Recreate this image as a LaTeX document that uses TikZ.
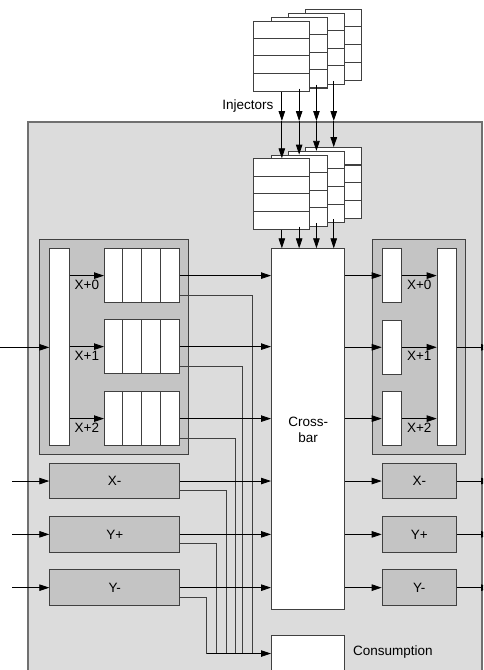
\documentclass[tikz,border=0pt]{standalone}
\usepackage{fontspec}
\setmainfont{Liberation Sans}
\usetikzlibrary{calc, arrows.meta}

\definecolor{routerbg}{HTML}{DCDCDC}
\definecolor{routeredge}{HTML}{707070}
\definecolor{unitbg}{HTML}{C4C4C4}
\definecolor{edge}{HTML}{404040}

\begin{document}
\begin{tikzpicture}[x=1pt, y=-1pt,
    font=\fontsize{13.5}{16}\selectfont,
    box/.style={draw=edge, line width=1.1pt, fill=white, inner sep=0pt, anchor=north west},
    unit/.style={box, fill=unitbg},
    arr/.style={-{Triangle[length=10pt,width=6.5pt]}, line width=0.8pt},
    feed/.style={line width=0.8pt, draw=edge}]

    \clip (0,0) rectangle (483,670);

    % router frame
    \node[box, draw=routeredge, fill=routerbg, line width=1.5pt, minimum width=454pt, minimum height=600pt] (router) at (27,121) {};

    % injector stacks, back to front
    \foreach \k in {3,2,1,0}{
        \node[box, minimum width=56pt, minimum height=70.5pt] (inj\k) at ({253.3+17.3*\k},{20.7-3.8*\k}) {};
        \foreach \r in {1,2,3}
            \draw[edge, line width=1.1pt] ($(inj\k.north west)+(0,17.6*\r)$) -- ($(inj\k.north east)+(0,17.6*\r)$);
    }
    \foreach \k in {3,2,1,0}{
        \node[box, minimum width=56pt, minimum height=71pt] (buf\k) at ({253.3+17.3*\k},{158.3-3.7*\k}) {};
        \foreach \r in {1,2,3}
            \draw[edge, line width=1.1pt] ($(buf\k.north west)+(0,17.75*\r)$) -- ($(buf\k.north east)+(0,17.75*\r)$);
    }
    \node[anchor=east, inner sep=1pt] (injlabel) at (274.5,106.5) {Injectors};

    % crossbar and consumption
    \node[box, minimum width=73.3pt, minimum height=361pt, align=center] (xbar) at (271,248.3) {Cross-\\bar};
    \node[box, minimum width=73.3pt, minimum height=36pt] (cons) at (271,635) {};
    \node[anchor=west, inner sep=1pt] (conslabel) at (352,652.5) {Consumption};

    \foreach \k in {0,...,3}{
        \draw[arr] (inj\k.south) -- (inj\k.south |- router.north);
        \draw[arr] (buf\k.north |- router.north) -- (buf\k.north);
        \draw[arr] (buf\k.south) -- (buf\k.south |- xbar.north);
    }

    % input unit X+
    \node[unit, minimum width=148.4pt, minimum height=214.7pt] (lgrp) at (39.3,239.3) {};
    \node[box, minimum width=19.4pt, minimum height=197pt] (lbar) at (49.3,248.3) {};
    \foreach \n/\y/\t in {qa/248.3/X+0, qb/319.3/X+1, qc/391.3/X+2}{
        \node[box, minimum width=74.7pt, minimum height=53.5pt] (\n) at (104,\y) {};
        \foreach \c in {1,2,3}
            \draw[edge, line width=1.1pt] ($(\n.north west)+(18.7*\c,0)$) -- ($(\n.south west)+(18.7*\c,0)$);
        \draw[arr] (lbar.east |- \n.west) -- (\n.west) node[midway, below=3pt, inner sep=1pt] {\t};
    }
    \coordinate (xin) at (0,0 |- lbar.west);
    \draw[arr] (xin) -- (lbar.west);

    % input units X-, Y+, Y-
    \foreach \n/\t/\y in {lxm/X-/462.7, lyp/Y+/516, lym/Y-/569.3}{
        \node[unit, minimum width=129.7pt, minimum height=35.6pt] (\n) at (49.3,\y) {\t};
        \coordinate (\n-in) at (12,0 |- \n.west);
        \draw[arr] (\n-in) -- (\n.west);
    }

    % feeds to crossbar and consumption
    \foreach \n/\x in {qa/252.3, qb/242.7, qc/235}{
        \draw[feed] ($(\n.east)+(0,19.5)$) -| (\x,0 |- cons.west);
        \draw[arr] (\n.east) -- (\n.east -| xbar.west);
    }
    \foreach \n/\x in {lxm/226.7, lyp/216.7, lym/206.7}{
        \draw[feed] ($(\n.east)+(0,9.5)$) -| (\x,0 |- cons.west);
        \draw[arr] (\n.east) -- (\n.east -| xbar.west);
    }
    \coordinate (bus) at (206.7,0 |- cons.west);
    \draw[arr] (bus) -- (cons.west);

    % output unit X+
    \node[unit, minimum width=93.3pt, minimum height=214.7pt] (rgrp) at (371.7,239.3) {};
    \node[box, minimum width=19pt, minimum height=197pt] (rbar) at (436.7,248.3) {};
    \foreach \n/\y/\t in {ra/248.3/X+0, rb/320/X+1, rc/391.3/X+2}{
        \node[box, minimum width=19pt, minimum height=53.5pt] (\n) at (381.7,\y) {};
        \draw[arr] (\n.west -| xbar.east) -- (\n.west);
        \draw[arr] (\n.east) -- (\n.east -| rbar.west) node[midway, below=3pt, inner sep=1pt] {\t};
    }
    \coordinate (xout) at (491,0 |- rbar.east);
    \draw[arr] (rbar.east) -- (xout);

    % output units X-, Y+, Y-
    \foreach \n/\t/\y in {rxm/X-/462.7, ryp/Y+/516, rym/Y-/569.3}{
        \node[unit, minimum width=74pt, minimum height=35.6pt] (\n) at (381.7,\y) {\t};
        \coordinate (\n-out) at (491,0 |- \n.east);
        \draw[arr] (\n.west -| xbar.east) -- (\n.west);
        \draw[arr] (\n.east) -- (\n-out);
    }
\end{tikzpicture}
\end{document}
